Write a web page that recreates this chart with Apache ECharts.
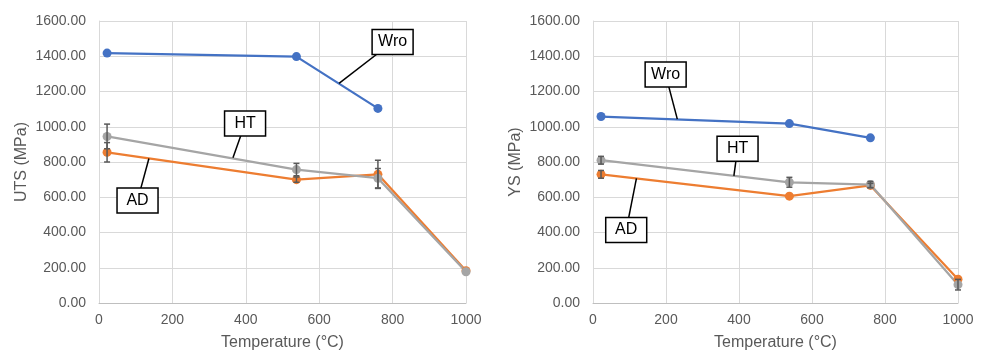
<!DOCTYPE html>
<html><head><meta charset="utf-8">
<script src="https://cdn.jsdelivr.net/npm/echarts@6/dist/echarts.min.js"></script>
<style>html,body{margin:0;padding:0;background:#fff}#c{width:987px;height:352px}</style>
</head><body><div id="c"></div>
<script>
// ---- data ----
const temperature = [22, 538, 760, 1000];
const tempWro = [22, 538, 760];
const xTicks = [0, 200, 400, 600, 800, 1000];
const yTicks = [0, 200, 400, 600, 800, 1000, 1200, 1400, 1600];

const utsWro = [1418, 1398, 1104];
const utsAD = [855, 700, 730, 183];
const utsADErr = [55, 15, 80, 0];
const utsHT = [945, 757, 708, 177];
const utsHTErr = [70, 35, 55, 0];

const ysWro = [1058, 1018, 937];
const ysAD = [730, 606, 667, 135];
const ysADErr = [22, 0, 12, 0];
const ysHT = [810, 685, 672, 104];
const ysHTErr = [22, 28, 18, 30];

const colors = {Wro: '#4472C4', AD: '#ED7D31', HT: '#A5A5A5'};

// annotation callouts (data coordinates: anchor on the line, box centre)
const notes = [
  {panel: 0, text: 'Wro', ax: 654, ay: 1246, bx: 800, by: 1481},
  {panel: 0, text: 'HT',  ax: 365, ay: 824,  bx: 398, by: 1018},
  {panel: 0, text: 'AD',  ax: 136, ay: 820,  bx: 105, by: 582},
  {panel: 1, text: 'Wro', ax: 231, ay: 1043, bx: 199, by: 1296},
  {panel: 1, text: 'HT',  ax: 386, ay: 721,  bx: 396, by: 875},
  {panel: 1, text: 'AD',  ax: 119, ay: 707,  bx: 91,  by: 414}
];

const FONT = '"Liberation Sans", Arial, sans-serif';
const grids = [
  {left: 99, top: 21, width: 367, height: 282, outerBoundsMode: 'none', containLabel: false},
  {left: 593, top: 21, width: 365, height: 282, outerBoundsMode: 'none', containLabel: false}
];

function xAxis(i) {
  return {
    type: 'value', gridIndex: i, min: xTicks[0], max: xTicks[xTicks.length - 1], interval: 200,
    name: 'Temperature (°C)', nameLocation: 'middle', nameGap: 32,
    nameTextStyle: {color: '#595959', fontSize: 16, fontFamily: FONT},
    axisLine: {show: true, lineStyle: {color: '#bfbfbf', width: 1}},
    axisTick: {show: false},
    axisLabel: {color: '#595959', fontSize: 14, fontFamily: FONT, margin: 10,
      formatter: v => String(v)},
    splitLine: {show: true, lineStyle: {color: '#d9d9d9', width: 1}}
  };
}
function yAxis(i, name) {
  return {
    type: 'value', gridIndex: i, min: yTicks[0], max: yTicks[yTicks.length - 1], interval: 200,
    name: name, nameLocation: 'middle', nameGap: 69, nameRotate: 90,
    nameTextStyle: {color: '#595959', fontSize: 16, fontFamily: FONT},
    axisLine: {show: true, lineStyle: {color: '#d9d9d9', width: 1}},
    axisTick: {show: false},
    axisLabel: {color: '#595959', fontSize: 14, fontFamily: FONT, margin: 13,
      formatter: v => v.toFixed(2)},
    splitLine: {show: true, lineStyle: {color: '#d9d9d9', width: 1}}
  };
}

function lineSeries(i, name, xs, ys) {
  return {
    type: 'line', name: name, xAxisIndex: i, yAxisIndex: i,
    data: xs.map((x, k) => [x, ys[k]]),
    symbol: 'circle', symbolSize: 9, showSymbol: true,
    lineStyle: {color: colors[name], width: 2.25},
    itemStyle: {color: colors[name]},
    z: 3, animation: false
  };
}
function errSeries(i, xs, ys, errs) {
  const d = [];
  xs.forEach((x, k) => { if (errs[k] > 0) d.push([x, ys[k] - errs[k], ys[k] + errs[k]]); });
  return {
    type: 'custom', xAxisIndex: i, yAxisIndex: i, data: d, z: 6, animation: false,
    renderItem: function (params, api) {
      const x = api.value(0);
      const lo = api.coord([x, api.value(1)]);
      const hi = api.coord([x, api.value(2)]);
      const st = {stroke: '#595959', lineWidth: 1.5};
      const w = 3;
      return {type: 'group', children: [
        {type: 'line', shape: {x1: lo[0], y1: lo[1], x2: hi[0], y2: hi[1]}, style: st},
        {type: 'line', shape: {x1: lo[0] - w, y1: lo[1], x2: lo[0] + w, y2: lo[1]}, style: st},
        {type: 'line', shape: {x1: hi[0] - w, y1: hi[1], x2: hi[0] + w, y2: hi[1]}, style: st}
      ]};
    }
  };
}

const chart = echarts.init(document.getElementById('c'), null, {renderer: 'canvas'});
const option = {
  backgroundColor: '#fff',
  animation: false,
  grid: grids,
  xAxis: [xAxis(0), xAxis(1)],
  yAxis: [yAxis(0, 'UTS (MPa)'), yAxis(1, 'YS (MPa)')],
  series: [
    lineSeries(0, 'Wro', tempWro, utsWro),
    lineSeries(0, 'AD', temperature, utsAD),
    lineSeries(0, 'HT', temperature, utsHT),
    errSeries(0, temperature, utsAD, utsADErr),
    errSeries(0, temperature, utsHT, utsHTErr),
    lineSeries(1, 'Wro', tempWro, ysWro),
    lineSeries(1, 'AD', temperature, ysAD),
    lineSeries(1, 'HT', temperature, ysHT),
    errSeries(1, temperature, ysAD, ysADErr),
    errSeries(1, temperature, ysHT, ysHTErr)
  ]
};
chart.setOption(option);

// callout boxes, positioned through the axes
const graphics = [];
notes.forEach(n => {
  const a = chart.convertToPixel({gridIndex: n.panel}, [n.ax, n.ay]);
  const b = chart.convertToPixel({gridIndex: n.panel}, [n.bx, n.by]);
  const w = 41, h = 25;
  graphics.push({type: 'line', shape: {x1: a[0], y1: a[1], x2: b[0], y2: b[1]},
    style: {stroke: '#000', lineWidth: 1.5}, z: 20});
  graphics.push({type: 'rect', shape: {x: b[0] - w / 2, y: b[1] - h / 2, width: w, height: h},
    style: {fill: '#fff', stroke: '#000', lineWidth: 1.5}, z: 21});
  graphics.push({type: 'text', x: b[0], y: b[1],
    style: {text: n.text, fill: '#000', font: '16px ' + FONT, align: 'center', verticalAlign: 'middle'}, z: 22});
});
chart.setOption({graphic: graphics});
</script>
</body></html>
